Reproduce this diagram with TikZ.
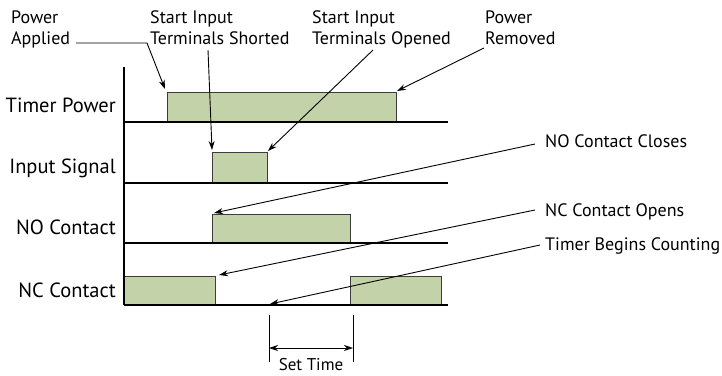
\documentclass[tikz,border=0pt]{standalone}
\usepackage{fontspec}
\setmainfont{PT Sans}
\usetikzlibrary{arrows.meta}
\definecolor{pulsefill}{RGB}{195,210,168}
\definecolor{pulseedge}{RGB}{60,60,60}
\begin{document}
\begin{tikzpicture}[x=1pt,y=-1pt,
  pulse/.style={fill=pulsefill,draw=pulseedge,line width=1pt},
  rail/.style={draw=black,line width=1.1pt},
  sig/.style={font=\fontsize{20.5}{24}\selectfont,anchor=base east,inner sep=0},
  note/.style={font=\fontsize{18}{20}\selectfont,anchor=base west,inner sep=0,align=left},
  lead/.style={line width=0.9pt,-{Stealth[length=9pt,width=6pt]}},
  span/.style={line width=0.9pt,{Stealth[length=9pt,width=6pt]}-{Stealth[length=9pt,width=6pt]}}]
\useasboundingbox (0,0) rectangle (722,375);

% pulse corners
\coordinate (tpA) at (167,92);  \coordinate (tpB) at (396,122);
\coordinate (isA) at (212,152); \coordinate (isB) at (267,183);
\coordinate (noA) at (212,214); \coordinate (noB) at (350,243);
\coordinate (ncA) at (124,276); \coordinate (ncB) at (215,305);
\coordinate (nc2A) at (350,276); \coordinate (nc2B) at (441,305);

% pulses
\draw[pulse] (tpA) rectangle (tpB);
\draw[pulse] (isA) rectangle (isB);
\draw[pulse] (noA) rectangle (noB);
\draw[pulse] (ncA) rectangle (ncB);
\draw[pulse] (nc2A) rectangle (nc2B);

% axis and signal rails
\coordinate (axTop) at (124,67);
\coordinate (axBot) at (124,305);
\draw[rail] (axTop) -- (axBot);
\foreach \y in {122,183,243,305}
  \draw[rail] (124,\y) -- (448,\y);

% signal names
\node[sig] (lTP) at (116,112) {Timer Power};
\node[sig] (lIS) at (116,173) {Input Signal};
\node[sig] (lNO) at (116,234) {NO Contact};
\node[sig] (lNC) at (116,297) {NC Contact};

% event notes
\node[note] (nPA1) at (11,23) {Power};
\node[note] (nPA2) at (11,44) {Applied};
\node[note] (nSS1) at (150,23) {Start Input};
\node[note] (nSS2) at (150,44) {Terminals Shorted};
\node[note] (nSO1) at (312,23) {Start Input};
\node[note] (nSO2) at (312,44) {Terminals Opened};
\node[note] (nPR1) at (485,23) {Power};
\node[note] (nPR2) at (485,44) {Removed};
\node[note] (nNO) at (545,147) {NO Contact Closes};
\node[note] (nNC) at (545,216) {NC Contact Opens};
\node[note] (nTB) at (545,250) {Timer Begins Counting};

% leader lines
\coordinate (pa0) at (76,43); \coordinate (pa1) at (147,43); \coordinate (paT) at (165,89);
\draw[lead] (pa0) -- (pa1) -- (paT);
\coordinate (ss0) at (208,50); \coordinate (ssT) at (212,150);
\draw[lead] (ss0) -- (ssT);
\coordinate (so0) at (373,50); \coordinate (soT) at (268,151);
\draw[lead] (so0) -- (soT);
\coordinate (pr0) at (484,48); \coordinate (prT) at (397,91);
\draw[lead] (pr0) -- (prT);
\coordinate (no0) at (535,144); \coordinate (noT) at (214,213);
\draw[lead] (no0) -- (noT);
\coordinate (nc0) at (535,210); \coordinate (ncT) at (219,275);
\draw[lead] (nc0) -- (ncT);
\coordinate (tb0) at (540,245); \coordinate (tbT) at (270,304);
\draw[lead] (tb0) -- (tbT);

% set time span
\coordinate (st1a) at (269,315); \coordinate (st1b) at (269,362);
\coordinate (st2a) at (353,315); \coordinate (st2b) at (353,362);
\draw[line width=0.9pt] (st1a) -- (st1b);
\draw[line width=0.9pt] (st2a) -- (st2b);
\coordinate (stL) at (269,348); \coordinate (stR) at (353,348);
\draw[span] (stL) -- (stR);
\node[font=\fontsize{17}{19}\selectfont,anchor=base,inner sep=0] (lST) at (311,370) {Set Time};
\end{tikzpicture}
\end{document}
